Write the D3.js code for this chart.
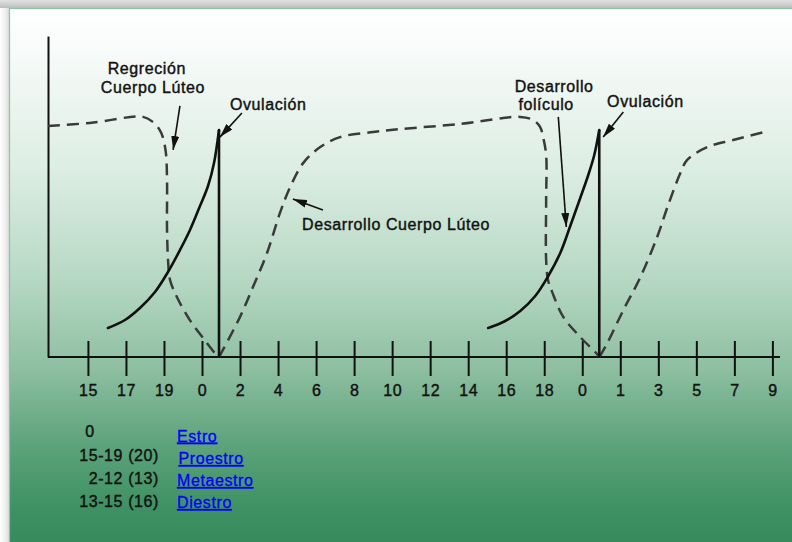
<!DOCTYPE html>
<html><head><meta charset="utf-8">
<script src="https://cdn.jsdelivr.net/npm/d3@7"></script>
<style>body{margin:0;background:#fff;} svg{display:block;}</style>
</head><body>
<svg id="c" width="792" height="542"></svg>
<script>
// ---------- data (x = tick index position, y = relative hormone level 0-100) ----------
const tickLabels = ["15","17","19","0","2","4","6","8","10","12","14","16","18","0","1","3","5","7","9"];

// corpus luteum (dashed) in three pieces, split at the ovulation points
const lutealSeg1 = [[-1.05,72.0],[0.05,72.9],[1.45,74.8],[1.71,73.2],[1.89,70.7],[1.97,68.5],[2.05,63.6],
  [2.08,55.1],[2.08,39.6],[2.11,29.6],[2.16,24.0],[2.34,18.7],[2.68,11.5],[3.03,5.9],[3.34,1.2],[3.45,0]];
const lutealSeg2 = [[3.45,0],[3.55,2.2],[4.0,12.5],[4.34,21.8],[4.71,32.4],[5.05,44.9],[5.32,53.0],[5.66,60.4],
  [6.11,65.4],[6.63,68.5],[7.5,70.1],[8.21,71.0],[9.79,72.6],[11.37,74.8],[11.71,73.8],[11.89,71.7],
  [11.97,68.5],[12.05,62.9],[12.05,48.9],[12.05,30.2],[12.1,24.0],[12.21,20.2],[12.5,12.5],[12.95,6.2],
  [13.39,0.9],[13.45,0]];
const lutealSeg3 = [[13.45,0],[13.66,4.4],[14.08,14.6],[14.53,24.9],[14.97,37.4],[15.24,46.7],[15.58,57.3],
  [15.76,61.4],[16.29,65.4],[16.97,67.6],[17.79,70.1]];

// follicle development (solid)
const follicle1 = [[0.526,9.03],[0.974,11.53],[1.368,15.26],[1.763,20.25],[2.105,26.48],[2.421,33.33],
  [2.684,39.56],[2.947,47.04],[3.158,53.27],[3.316,60.44],[3.447,70.72]];
const follicle2 = [[10.526,9.03],[10.974,11.21],[11.368,14.33],[11.763,19.0],[12.105,25.23],[12.421,32.4],
  [12.684,40.81],[12.947,49.53],[13.158,56.7],[13.316,62.93],[13.447,70.72]];

const ovulationX = [3.447, 13.447];
const ovulationPeak = 70.72;

// annotations: text lines, and arrows [from, to] in data units
const annotationTexts = ["Regreción","Cuerpo Lúteo","Ovulación","Desarrollo Cuerpo Lúteo","Desarrollo","folículo","Ovulación"];
const annotationAnchors = [[1.55,88.2],[1.71,82.2],[4.74,76.9],[5.63,39.6],[12.26,82.6],[12.05,76.9],[14.66,77.9]];
const annotationAlign = ["middle","middle","middle","start","middle","middle","middle"];
const arrows = [
  [[2.42,78.2],[2.24,64.5]],
  [[4.05,76.0],[3.47,68.5]],
  [[6.18,45.8],[5.39,49.2]],
  [[12.37,74.8],[12.58,40.5]],
  [[14.08,76.3],[13.55,68.5]]
];

const legendRanges = ["0","15-19 (20)","2-12 (13)","13-15 (16)"];
const legendPhases = ["Estro","Proestro","Metaestro","Diestro"];

// ---------- drawing ----------
const svg = d3.select("#c");
const W = 792, H = 542;
const FONT = "'Liberation Sans', Arial, sans-serif";
const defs = svg.append("defs");

const bg = defs.append("linearGradient").attr("id","bg").attr("x1",0).attr("y1",0).attr("x2",0).attr("y2",1);
[[0,"#ffffff"],[0.08,"#f7fbf9"],[0.3,"#dcede3"],[0.5,"#b6d8c3"],[0.66,"#8fc0a2"],[0.8,"#5ea47c"],[0.92,"#3f9164"],[1,"#338a5a"]]
  .forEach(([o,c]) => bg.append("stop").attr("offset",o).attr("stop-color",c));
const topShade = defs.append("linearGradient").attr("id","topShade").attr("x1",0).attr("y1",0).attr("x2",0).attr("y2",1);
[[0,"#e2e2e2"],[1,"#bdbdbd"]].forEach(([o,c]) => topShade.append("stop").attr("offset",o).attr("stop-color",c));
const leftShade = defs.append("linearGradient").attr("id","leftShade").attr("x1",0).attr("y1",0).attr("x2",1).attr("y2",0);
[[0,"#ffffff"],[0.6,"#ececec"],[1,"#d6d6d6"]].forEach(([o,c]) => leftShade.append("stop").attr("offset",o).attr("stop-color",c));

defs.append("marker").attr("id","ah").attr("markerUnits","userSpaceOnUse")
  .attr("viewBox","0 0 14 8").attr("refX",14).attr("refY",4)
  .attr("markerWidth",14).attr("markerHeight",8).attr("orient","auto")
  .append("path").attr("d","M0,0L14,4L0,8Z").attr("fill","#111");

svg.append("rect").attr("width",W).attr("height",H).attr("fill","#ffffff");
svg.append("rect").attr("x",0).attr("y",0).attr("width",10).attr("height",H).attr("fill","url(#leftShade)");
svg.append("rect").attr("x",0).attr("y",0).attr("width",W).attr("height",8).attr("fill","url(#topShade)");
svg.append("rect").attr("x",9.5).attr("y",8.5).attr("width",W).attr("height",H)
  .attr("fill","url(#bg)").attr("stroke","#8cc4a4").attr("stroke-width",1.2);

const x = d3.scaleLinear().domain([-1.05, 18.2]).range([48, 780]);
const y = d3.scaleLinear().domain([0, 100]).range([357, 36]);

// y axis
svg.append("g").attr("transform",`translate(${x(-1.05)},0)`)
  .call(d3.axisLeft(y).tickValues([]).tickSizeOuter(0))
  .call(g => g.select(".domain").attr("stroke","#111").attr("stroke-width",2));

// x axis line
svg.append("line").attr("x1",x.range()[0]).attr("x2",x.range()[1]).attr("y1",y(0)).attr("y2",y(0))
  .attr("stroke","#111").attr("stroke-width",2);

// x ticks crossing the axis
const xa = svg.append("g").attr("transform",`translate(0,${y(0)-16})`)
  .call(d3.axisBottom(x).tickValues(d3.range(tickLabels.length)).tickFormat(i => tickLabels[i])
    .tickSize(35).tickPadding(9));
xa.select(".domain").remove();
xa.selectAll(".tick line").attr("stroke","#111").attr("stroke-width",2);
xa.selectAll(".tick text").attr("fill","#111").attr("stroke","#111").attr("stroke-width",0.4)
  .style("font-family",FONT).style("font-size","16px").style("letter-spacing","0.5px");

const line = d3.line().x(d => x(d[0])).y(d => y(d[1])).curve(d3.curveCatmullRom.alpha(0.5));

[lutealSeg1, lutealSeg2, lutealSeg3].forEach(seg => {
  svg.append("path").attr("d", line(seg)).attr("fill","none").attr("stroke","#3a3a3a")
    .attr("stroke-width",2.5).attr("stroke-dasharray","12,7");
});
[follicle1, follicle2].forEach(seg => {
  svg.append("path").attr("d", line(seg)).attr("fill","none").attr("stroke","#111")
    .attr("stroke-width",2.6).attr("stroke-linecap","round");
});
ovulationX.forEach(ox => {
  svg.append("line").attr("x1",x(ox)).attr("x2",x(ox)).attr("y1",y(ovulationPeak)).attr("y2",y(0))
    .attr("stroke","#111").attr("stroke-width",2.6);
});

// annotation arrows
arrows.forEach(([a,b]) => {
  svg.append("line").attr("x1",x(a[0])).attr("y1",y(a[1])).attr("x2",x(b[0])).attr("y2",y(b[1]))
    .attr("stroke","#111").attr("stroke-width",1.6).attr("marker-end","url(#ah)");
});

// annotation text
svg.selectAll("text.ann").data(annotationTexts).join("text").attr("class","ann")
  .attr("x",(d,i) => x(annotationAnchors[i][0])).attr("y",(d,i) => y(annotationAnchors[i][1]))
  .attr("text-anchor",(d,i) => annotationAlign[i])
  .attr("fill","#111").attr("stroke","#111").attr("stroke-width",0.4)
  .style("font-family",FONT).style("font-size","16px").style("letter-spacing","0.6px").text(d => d);

// legend
const legendRowY = [437, 461, 484, 507];
const linkRowY = [441.5, 464, 486, 508];
legendRanges.forEach((t,i) => {
  svg.append("text").attr("x", i === 0 ? 90 : 159).attr("y", legendRowY[i])
    .attr("text-anchor", i === 0 ? "middle" : "end").attr("fill","#111").attr("stroke","#111").attr("stroke-width",0.4)
    .style("font-family",FONT).style("font-size","16px").style("letter-spacing","0.6px").text(t);
});
legendPhases.forEach((t,i) => {
  svg.append("text").attr("x", i === 1 ? 178.5 : 177).attr("y", linkRowY[i]).attr("fill","#0000ff")
    .attr("stroke","#0000ff").attr("stroke-width",0.3)
    .style("font-family",FONT).style("font-size","16px")
    .style("letter-spacing","0.6px").style("text-decoration","underline").text(t);
});
</script>
</body></html>
